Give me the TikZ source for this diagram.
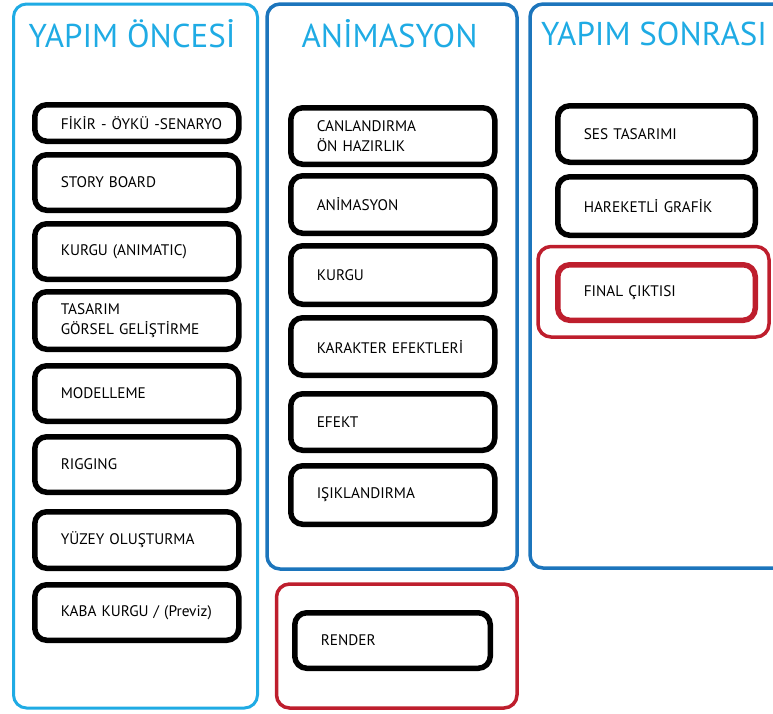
\documentclass[tikz,border=0pt]{standalone}
\usepackage{fontspec}
\setmainfont{PT Sans}
\definecolor{celeste}{HTML}{1FABE4}
\definecolor{blu}{HTML}{1C75BC}
\definecolor{rosso}{HTML}{BE1E2D}
\begin{document}
\begin{tikzpicture}[x=1pt, y=-1pt,
        fase/.style={line width=3.5pt, rounded corners=13pt},
        titolo/.style={text=celeste, font=\fontsize{33}{36}\selectfont},
        passo/.style={draw=black, line width=5.5pt, rounded corners=12pt, fill=white,
            anchor=north west, align=left, text width=152pt, inner xsep=26pt,
            minimum height=55.5pt, font=\fontsize{15.3}{20}\selectfont}]
        \useasboundingbox (0,0) rectangle (773,713);
        \clip (0,0) rectangle (773,713);

        % Fasi (riquadri grandi)
        \draw[fase, celeste, line width=3pt] (13.5,4) rectangle (257.5,708);
        \draw[fase, blu] (267,4) rectangle (517,569);
        \draw[fase, blu] (530,4) rectangle (800,568);
        \draw[fase, rosso] (276.5,584) rectangle (517,708);
        \draw[fase, rosso] (538,246.5) rectangle (769,337);

        % Titoli
        \node[titolo] (preprod) at (132,34) {YAPIM ÖNCESİ};
        \node[titolo] (anim) at (389.5,34) {ANİMASYON};
        \node[titolo] (postprod) at (654,34) {YAPIM SONRASI};

        % Yapım öncesi
        \node[passo, minimum height=36.5pt] (fikir) at (32,102) {\mbox{FİKİR - ÖYKÜ -SENARYO}};
        \node[passo] (story) at (32,152) {STORY BOARD};
        \node[passo] (animatic) at (32,221) {KURGU (ANIMATIC)};
        \node[passo, minimum height=57.5pt] (tasarim) at (32,289) {TASARIM\\GÖRSEL GELİŞTİRME};
        \node[passo] (model) at (32,363) {MODELLEME};
        \node[passo] (rig) at (32,434) {RIGGING};
        \node[passo, minimum height=56.5pt] (yuzey) at (32,509) {YÜZEY OLUŞTURMA};
        \node[passo] (previz) at (32,582) {KABA KURGU / (Previz)};

        % Animasyon
        \node[passo, minimum height=56.5pt] (canlan) at (288,105) {CANLANDIRMA\\ÖN HAZIRLIK};
        \node[passo, minimum height=57.5pt] (animasyon) at (288,173) {ANİMASYON};
        \node[passo, minimum height=58.5pt] (kurgu) at (288,243) {KURGU};
        \node[passo, minimum height=57.5pt] (karakter) at (288,315) {KARAKTER EFEKTLERİ};
        \node[passo, minimum height=56.5pt] (efekt) at (288,391) {EFEKT};
        \node[passo, minimum height=58.5pt] (isik) at (288,463) {IŞIKLANDIRMA};
        \node[passo, text width=143.5pt] (render) at (292,610) {RENDER};

        % Yapım sonrası
        \node[passo, text width=145.5pt, minimum height=56.5pt] (ses) at (555,103) {SES TASARIMI};
        \node[passo, text width=145.5pt, minimum height=58.5pt] (grafik) at (555,174) {HAREKETLİ GRAFİK};
        \node[passo, draw=rosso, text width=145.5pt] (final) at (555,262) {FINAL ÇIKTISI};
\end{tikzpicture}
\end{document}
